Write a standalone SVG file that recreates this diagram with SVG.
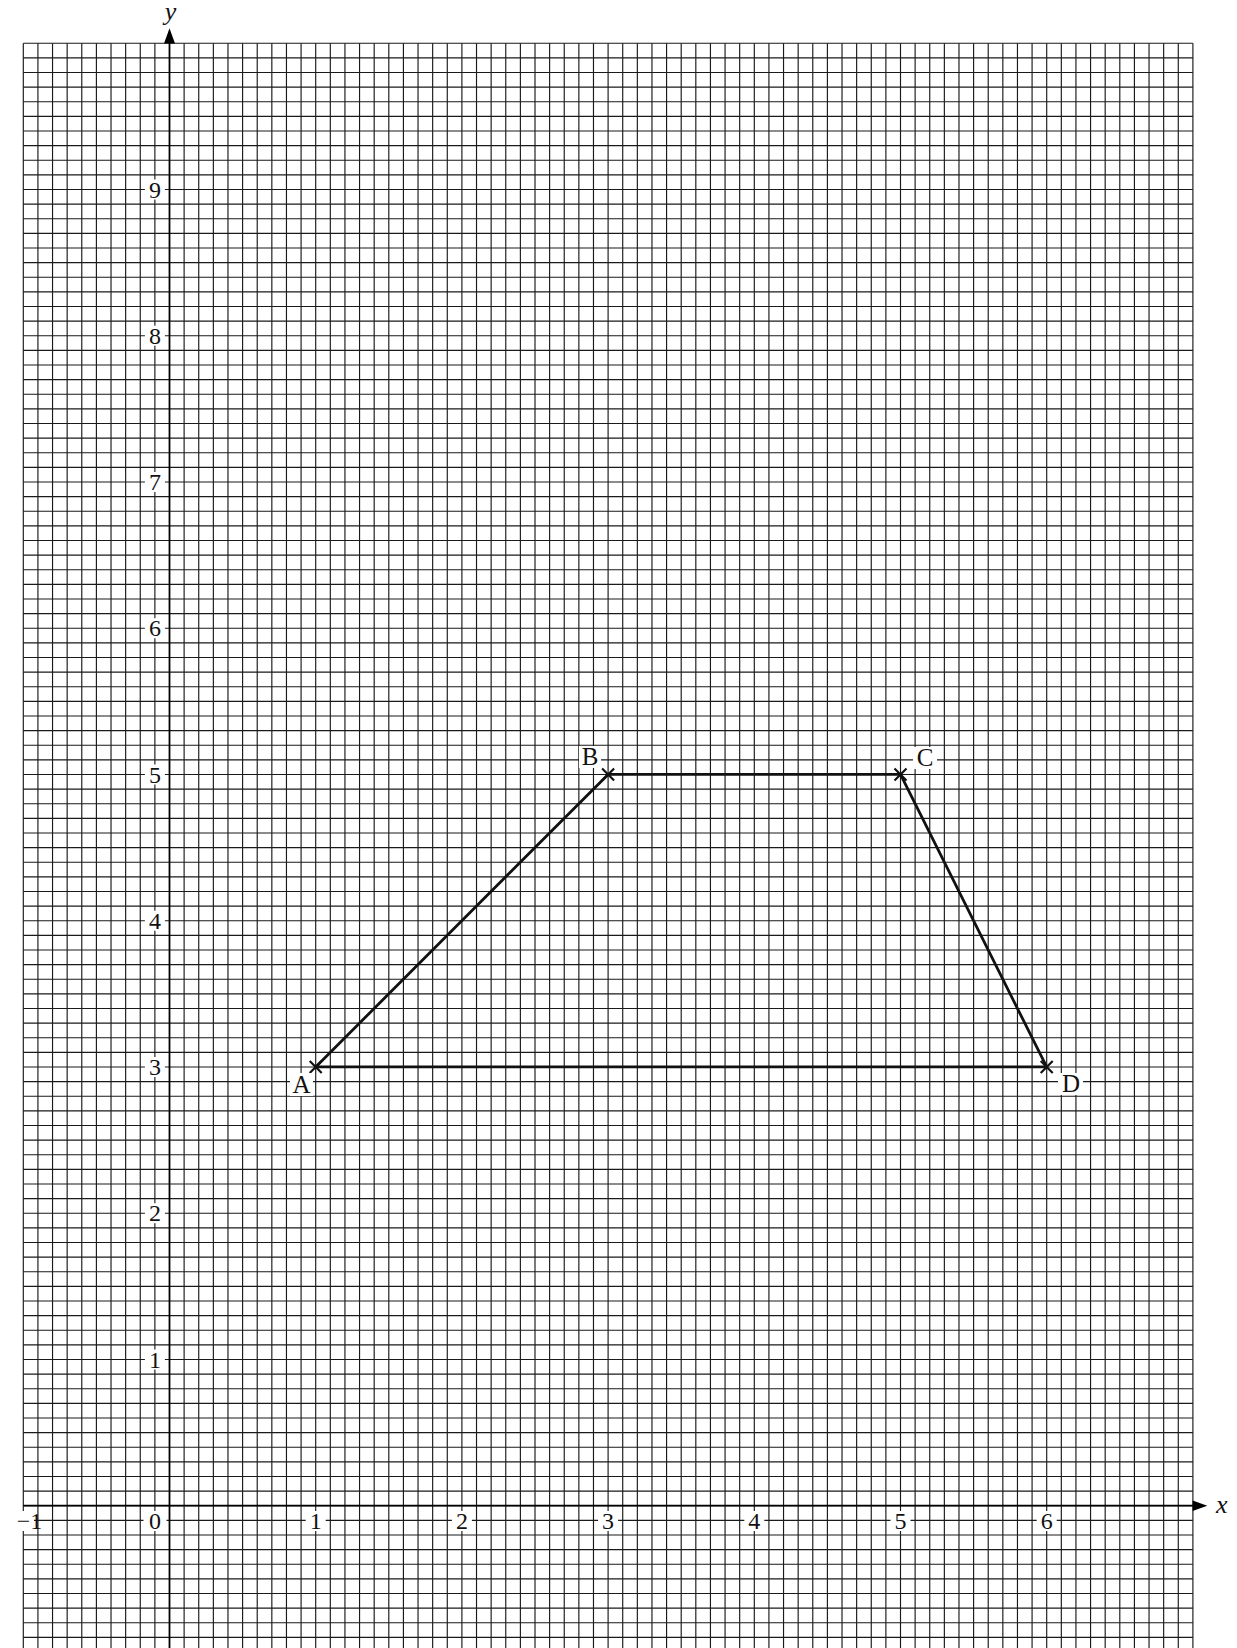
<svg xmlns="http://www.w3.org/2000/svg" width="1237" height="1648" viewBox="0 0 1237 1648">
<style>
.grid{fill:none;stroke:#1a1a1a;stroke-width:1.15}
.axis{fill:none;stroke:#000;stroke-width:1.7}
.edge{fill:none;stroke:#111;stroke-width:2.8;stroke-linecap:round}
.cross{fill:none;stroke:#111;stroke-width:2.2}
.bg{fill:#fff}
.tick{font-family:"Liberation Serif","Times New Roman",serif;font-size:24px;fill:#111;text-anchor:middle}
.pt{font-family:"Liberation Serif","Times New Roman",serif;font-size:25px;fill:#111;text-anchor:middle}
.var{font-family:"Liberation Serif","Times New Roman",serif;font-size:26px;font-style:italic;fill:#111}
</style>
<defs>
<path id="x" d="M-6,-6L6,6M-6,6L6,-6"/>
</defs>
<rect width="1237" height="1648" fill="#fff"/>
<g id="grid" class="grid">
<path d="M23.3 43.2V1648M37.92 43.2V1648M52.54 43.2V1648M67.16 43.2V1648M81.78 43.2V1648M96.4 43.2V1648M111.02 43.2V1648M125.64 43.2V1648M140.26 43.2V1648M154.88 43.2V1648M169.5 43.2V1648M184.12 43.2V1648M198.74 43.2V1648M213.36 43.2V1648M227.98 43.2V1648M242.6 43.2V1648M257.22 43.2V1648M271.84 43.2V1648M286.46 43.2V1648M301.08 43.2V1648M315.7 43.2V1648M330.32 43.2V1648M344.94 43.2V1648M359.56 43.2V1648M374.18 43.2V1648M388.8 43.2V1648M403.42 43.2V1648M418.04 43.2V1648M432.66 43.2V1648M447.28 43.2V1648M461.9 43.2V1648M476.52 43.2V1648M491.14 43.2V1648M505.76 43.2V1648M520.38 43.2V1648M535 43.2V1648M549.62 43.2V1648M564.24 43.2V1648M578.86 43.2V1648M593.48 43.2V1648M608.1 43.2V1648M622.72 43.2V1648M637.34 43.2V1648M651.96 43.2V1648M666.58 43.2V1648M681.2 43.2V1648M695.82 43.2V1648M710.44 43.2V1648M725.06 43.2V1648M739.68 43.2V1648M754.3 43.2V1648M768.92 43.2V1648M783.54 43.2V1648M798.16 43.2V1648M812.78 43.2V1648M827.4 43.2V1648M842.02 43.2V1648M856.64 43.2V1648M871.26 43.2V1648M885.88 43.2V1648M900.5 43.2V1648M915.12 43.2V1648M929.74 43.2V1648M944.36 43.2V1648M958.98 43.2V1648M973.6 43.2V1648M988.22 43.2V1648M1002.84 43.2V1648M1017.46 43.2V1648M1032.08 43.2V1648M1046.7 43.2V1648M1061.32 43.2V1648M1075.94 43.2V1648M1090.56 43.2V1648M1105.18 43.2V1648M1119.8 43.2V1648M1134.42 43.2V1648M1149.04 43.2V1648M1163.66 43.2V1648M1178.28 43.2V1648M1192.9 43.2V1648"/>
<path d="M23.3 43.2H1192.9M23.3 57.83H1192.9M23.3 72.45H1192.9M23.3 87.08H1192.9M23.3 101.7H1192.9M23.3 116.33H1192.9M23.3 130.95H1192.9M23.3 145.58H1192.9M23.3 160.2H1192.9M23.3 174.83H1192.9M23.3 189.45H1192.9M23.3 204.08H1192.9M23.3 218.7H1192.9M23.3 233.33H1192.9M23.3 247.95H1192.9M23.3 262.58H1192.9M23.3 277.2H1192.9M23.3 291.83H1192.9M23.3 306.45H1192.9M23.3 321.08H1192.9M23.3 335.7H1192.9M23.3 350.33H1192.9M23.3 364.95H1192.9M23.3 379.58H1192.9M23.3 394.2H1192.9M23.3 408.83H1192.9M23.3 423.45H1192.9M23.3 438.08H1192.9M23.3 452.7H1192.9M23.3 467.33H1192.9M23.3 481.95H1192.9M23.3 496.58H1192.9M23.3 511.2H1192.9M23.3 525.83H1192.9M23.3 540.45H1192.9M23.3 555.08H1192.9M23.3 569.7H1192.9M23.3 584.33H1192.9M23.3 598.95H1192.9M23.3 613.58H1192.9M23.3 628.2H1192.9M23.3 642.83H1192.9M23.3 657.45H1192.9M23.3 672.08H1192.9M23.3 686.7H1192.9M23.3 701.33H1192.9M23.3 715.95H1192.9M23.3 730.58H1192.9M23.3 745.2H1192.9M23.3 759.83H1192.9M23.3 774.45H1192.9M23.3 789.08H1192.9M23.3 803.7H1192.9M23.3 818.33H1192.9M23.3 832.95H1192.9M23.3 847.58H1192.9M23.3 862.2H1192.9M23.3 876.83H1192.9M23.3 891.45H1192.9M23.3 906.08H1192.9M23.3 920.7H1192.9M23.3 935.33H1192.9M23.3 949.95H1192.9M23.3 964.58H1192.9M23.3 979.2H1192.9M23.3 993.83H1192.9M23.3 1008.45H1192.9M23.3 1023.08H1192.9M23.3 1037.7H1192.9M23.3 1052.33H1192.9M23.3 1066.95H1192.9M23.3 1081.58H1192.9M23.3 1096.2H1192.9M23.3 1110.83H1192.9M23.3 1125.45H1192.9M23.3 1140.08H1192.9M23.3 1154.7H1192.9M23.3 1169.33H1192.9M23.3 1183.95H1192.9M23.3 1198.58H1192.9M23.3 1213.2H1192.9M23.3 1227.83H1192.9M23.3 1242.45H1192.9M23.3 1257.08H1192.9M23.3 1271.7H1192.9M23.3 1286.33H1192.9M23.3 1300.95H1192.9M23.3 1315.58H1192.9M23.3 1330.2H1192.9M23.3 1344.83H1192.9M23.3 1359.45H1192.9M23.3 1374.08H1192.9M23.3 1388.7H1192.9M23.3 1403.33H1192.9M23.3 1417.95H1192.9M23.3 1432.58H1192.9M23.3 1447.2H1192.9M23.3 1461.83H1192.9M23.3 1476.45H1192.9M23.3 1491.08H1192.9M23.3 1505.7H1192.9M23.3 1520.33H1192.9M23.3 1534.95H1192.9M23.3 1549.58H1192.9M23.3 1564.2H1192.9M23.3 1578.83H1192.9M23.3 1593.45H1192.9M23.3 1608.08H1192.9M23.3 1622.7H1192.9M23.3 1637.33H1192.9"/>
</g>
<g id="axes">
<path class="axis" d="M169.5 1648V43.2M23.3 1505.7H1192.9"/>
<path d="M169.5 28.3L175 43.4H164Z" fill="#000"/>
<path d="M1207.3 1505.7L1192.6 1500.4V1511Z" fill="#000"/>
<text class="var" x="170.5" y="19.5" text-anchor="middle">y</text>
<text class="var" x="1216" y="1513">x</text>
</g>
<g id="tick-labels">
<g class="bg">
<rect x="4" y="1511" width="30" height="20"/>
<rect x="143.5" y="1511" width="23" height="20"/>
<rect x="305.7" y="1511" width="20" height="20"/>
<rect x="451.9" y="1511" width="20" height="20"/>
<rect x="598.1" y="1511" width="20" height="20"/>
<rect x="744.3" y="1511" width="20" height="20"/>
<rect x="890.5" y="1511" width="20" height="20"/>
<rect x="1036.7" y="1511" width="20" height="20"/>
<rect x="144.9" y="179.5" width="20" height="20"/>
<rect x="144.9" y="325.7" width="20" height="20"/>
<rect x="144.9" y="472" width="20" height="20"/>
<rect x="144.9" y="618.2" width="20" height="20"/>
<rect x="144.9" y="764.5" width="20" height="20"/>
<rect x="144.9" y="910.7" width="20" height="20"/>
<rect x="144.9" y="1057" width="20" height="20"/>
<rect x="144.9" y="1203.2" width="20" height="20"/>
<rect x="144.9" y="1349.5" width="20" height="20"/>
</g>
<text class="tick" x="29.5" y="1529" text-anchor="end">−1</text>
<text class="tick" x="154.9" y="1529">0</text>
<text class="tick" x="315.7" y="1529">1</text>
<text class="tick" x="461.9" y="1529">2</text>
<text class="tick" x="608.1" y="1529">3</text>
<text class="tick" x="754.3" y="1529">4</text>
<text class="tick" x="900.5" y="1529">5</text>
<text class="tick" x="1046.7" y="1529">6</text>
<text class="tick" x="154.9" y="197.5">9</text>
<text class="tick" x="154.9" y="343.7">8</text>
<text class="tick" x="154.9" y="490">7</text>
<text class="tick" x="154.9" y="636.2">6</text>
<text class="tick" x="154.9" y="782.5">5</text>
<text class="tick" x="154.9" y="928.7">4</text>
<text class="tick" x="154.9" y="1075">3</text>
<text class="tick" x="154.9" y="1221.2">2</text>
<text class="tick" x="154.9" y="1367.5">1</text>
</g>
<g id="connectors">
<path class="edge" d="M315.7 1066.95L608.1 774.45"/>
<path class="edge" d="M608.1 774.45L900.5 774.45"/>
<path class="edge" d="M900.5 774.45L1046.7 1066.95"/>
<path class="edge" d="M1046.7 1066.95L315.7 1066.95"/>
</g>
<g id="node-A">
<use href="#x" class="cross" x="315.7" y="1066.95"/>
<rect class="bg" x="290" y="1073" width="23" height="23"/>
<text class="pt" x="301.5" y="1093">A</text>
</g>
<g id="node-B">
<use href="#x" class="cross" x="608.1" y="774.45"/>
<rect class="bg" x="579" y="746" width="22" height="22"/>
<text class="pt" x="590" y="765">B</text>
</g>
<g id="node-C">
<use href="#x" class="cross" x="900.5" y="774.45"/>
<rect class="bg" x="913" y="747" width="24" height="22"/>
<text class="pt" x="925" y="766">C</text>
</g>
<g id="node-D">
<use href="#x" class="cross" x="1046.7" y="1066.95"/>
<rect class="bg" x="1058" y="1073" width="25" height="22"/>
<text class="pt" x="1071" y="1092">D</text>
</g>
</svg>
